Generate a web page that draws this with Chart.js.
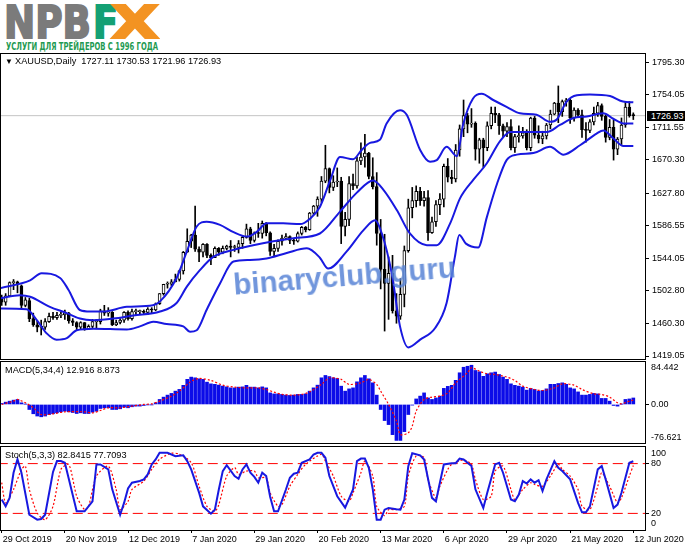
<!DOCTYPE html>
<html>
<head>
<meta charset="utf-8">
<script src="https://cdn.jsdelivr.net/npm/chart.js@4.4.1/dist/chart.umd.min.js"></script>
<style>
  html, body { margin:0; padding:0; background:#fff; }
  body { width:691px; height:549px; position:relative; overflow:hidden; font-family:"Liberation Sans", Arial, sans-serif; }
  canvas { position:absolute; left:0; }
  .lbl { position:absolute; font-size:9.2px; line-height:11px; color:#000; white-space:pre; }
  .logoL { position:absolute; top:0; font-family:"DejaVu Sans", sans-serif; font-weight:bold; font-size:45px; line-height:45px; transform-origin:0 0; white-space:nowrap; -webkit-text-stroke:2px currentColor; }
  #slogan { position:absolute; left:6px; top:40px; font-family:"Liberation Sans Narrow","DejaVu Sans Condensed",sans-serif; font-weight:bold; font-size:10.5px; line-height:12px; color:#1f9a52; white-space:nowrap; transform-origin:0 0; }
  #tag { position:absolute; left:647px; top:111px; width:38px; height:10px; background:#000; color:#fff; font-size:9px; line-height:10px; text-align:left; padding-left:0; text-indent:4px; box-sizing:border-box; }
  #wm { position:absolute; left:233px; top:259px; font-family:"Liberation Sans", Arial, sans-serif; font-weight:bold; font-size:29.5px; line-height:33px; color:rgba(88,132,214,0.85); white-space:nowrap; transform:rotate(-4.5deg); transform-origin:50% 50%; pointer-events:none; }
</style>
</head>
<body>
<div class="logoL" id="lgN" style="color:#7b7b7b">NPB</div>
<div class="logoL" id="lgF" style="color:#14a074">F</div>
<div class="logoL" id="lgX" style="color:#f39322">X</div>
<div id="slogan">УСЛУГИ ДЛЯ ТРЕЙДЕРОВ С 1996 ГОДА</div>

<canvas id="cMain" width="691" height="307" style="top:53px"></canvas>
<canvas id="cMacd" width="691" height="83" style="top:361px"></canvas>
<canvas id="cStoch" width="691" height="103" style="top:446px"></canvas>

<div class="lbl" style="left:5px;top:56px;font-size:8px">▼</div>
<div class="lbl" style="left:15px;top:56.3px">XAUUSD,Daily  1727.11 1730.53 1721.96 1726.93</div>
<div class="lbl" style="left:5px;top:364.6px">MACD(5,34,4) 12.916 8.873</div>
<div class="lbl" style="left:5px;top:450px">Stoch(5,3,3) 82.8415 77.7093</div>
<div id="tag">1726.93</div>
<div id="wm">binaryclub.guru</div>

<script>
// ---------------- DATA ----------------
const dateLabels = ['29 Oct 2019','20 Nov 2019','12 Dec 2019','7 Jan 2020','29 Jan 2020','20 Feb 2020','13 Mar 2020','6 Apr 2020','29 Apr 2020','21 May 2020','12 Jun 2020'];
const dateTickBars = [0,16,32,48,64,80,96,112,128,144,160];

const opens = [1493,1488,1496,1513,1514,1509,1484,1490,1467,1459,1456,1456,1463,1470,1468,1471,1472,1474,1464,1462,
1456,1462,1454,1457,1463,1463,1477,1474,1475,1459,1462,1465,1475,1467,1476,1476,1476,1475,1479,1478,
1486,1499,1511,1511,1514,1517,1528,1552,1566,1574,1556,1552,1562,1548,1545,1557,1552,1557,1560,1558,
1558,1563,1571,1582,1567,1577,1576,1589,1577,1553,1557,1566,1570,1572,1567,1566,1576,1584,1581,1602,
1611,1620,1643,1659,1635,1642,1643,1585,1594,1640,1637,1669,1674,1679,1649,1636,1576,1530,1512,1525,
1477,1470,1498,1554,1609,1618,1630,1618,1622,1577,1591,1613,1620,1662,1648,1646,1683,1710,1727,1716,
1717,1684,1696,1686,1714,1730,1728,1714,1707,1713,1686,1700,1701,1705,1686,1724,1702,1697,1701,1715,
1729,1743,1732,1745,1747,1724,1734,1728,1709,1708,1719,1730,1740,1726,1699,1712,1684,1697,1715,1738,1727.11];
const highs = [1497,1499,1514,1517,1515,1510,1494,1493,1474,1464,1465,1467,1474,1475,1475,1475,1478,1475,1467,1463,
1463,1462,1459,1466,1466,1479,1484,1481,1476,1465,1467,1476,1477,1479,1479,1478,1478,1481,1481,1487,
1499,1511,1514,1517,1524,1529,1553,1582,1575,1611,1559,1563,1563,1550,1559,1558,1560,1561,1567,1561,
1567,1573,1588,1584,1578,1589,1592,1590,1578,1562,1568,1574,1576,1573,1569,1578,1585,1585,1603,1612,
1623,1649,1689,1660,1650,1660,1648,1603,1649,1652,1674,1692,1703,1680,1673,1654,1594,1575,1546,1548,
1499,1518,1560,1620,1635,1637,1635,1630,1631,1597,1618,1627,1665,1672,1657,1690,1715,1747,1730,1736,
1719,1698,1698,1719,1738,1738,1730,1716,1718,1722,1703,1714,1712,1709,1725,1726,1714,1707,1717,1734,
1744,1765,1747,1749,1748,1737,1736,1734,1718,1722,1738,1744,1742,1728,1722,1721,1699,1724,1744,1745,1730.53];
const lows = [1484,1484,1495,1504,1500,1480,1482,1463,1457,1450,1446,1453,1462,1466,1466,1468,1466,1461,1458,1452,
1454,1452,1453,1454,1454,1460,1471,1470,1458,1458,1460,1462,1465,1465,1472,1473,1472,1472,1474,1477,
1485,1497,1506,1509,1514,1515,1524,1552,1558,1553,1540,1546,1545,1536,1545,1548,1550,1555,1546,1553,
1551,1557,1570,1563,1565,1571,1570,1573,1548,1547,1553,1561,1568,1563,1562,1565,1574,1578,1580,1600,
1598,1616,1641,1628,1631,1636,1563,1573,1586,1632,1634,1664,1661,1646,1633,1561,1505,1451,1466,1474,
1461,1466,1482,1552,1596,1610,1612,1611,1567,1576,1585,1600,1610,1642,1640,1642,1675,1700,1705,1712,
1670,1666,1661,1682,1710,1718,1703,1700,1700,1683,1680,1693,1698,1683,1682,1698,1692,1691,1697,1710,
1728,1718,1726,1739,1717,1720,1725,1699,1693,1705,1715,1726,1721,1693,1696,1670,1677,1690,1712,1725,1721.96];
const closes = [1488,1496,1513,1514,1510,1484,1491,1467,1459,1456,1456,1463,1470,1468,1471,1472,1474,1464,1462,1456,
1462,1454,1457,1463,1463,1477,1474,1475,1459,1462,1465,1475,1467,1476,1476,1476,1475,1479,1478,1486,
1499,1511,1511,1514,1517,1528,1552,1566,1574,1556,1552,1562,1548,1545,1557,1552,1557,1560,1558,1558,
1563,1571,1582,1567,1577,1576,1589,1577,1553,1557,1566,1570,1572,1567,1566,1576,1584,1581,1602,1611,
1620,1643,1659,1635,1642,1643,1585,1594,1640,1637,1669,1674,1679,1649,1636,1576,1530,1512,1525,1477,
1470,1498,1554,1609,1618,1630,1618,1622,1577,1591,1613,1620,1662,1648,1646,1683,1710,1727,1716,1717,
1684,1696,1686,1714,1730,1728,1714,1707,1713,1686,1700,1701,1705,1686,1724,1702,1697,1701,1715,1729,
1743,1732,1745,1747,1724,1734,1728,1709,1708,1719,1730,1740,1726,1699,1712,1684,1697,1715,1738,1727,1726.93];
const lastPrice = 1726.93;

// Bollinger bands: [bar, price]
const bbUpper = [[-0.4,1506],[7.2,1516],[10.1,1525],[14.8,1519],[16.9,1504],[19.8,1478],[22.4,1476],[25.7,1476],[31.7,1482],[38.3,1484],[40.1,1489],[44.3,1519],[46.9,1553],[49.4,1585],[51.9,1591],[55.3,1587],[58.6,1578],[62.1,1572],[64.6,1578],[67.1,1589],[71.3,1589],[75.6,1588],[78.1,1595],[80.6,1610],[83.2,1644],[85.7,1674],[89,1671],[91.2,1683],[93.3,1692],[95.8,1696],[97.5,1717],[100.9,1734],[102.6,1728],[106,1683],[108.5,1668],[110.2,1670],[112.7,1687],[115.3,1675],[116.9,1716],[119.4,1749],[121.6,1755],[124.5,1747],[128,1738],[131.3,1730],[135.5,1728],[138.9,1719],[140.6,1722],[143.1,1745],[145.7,1753],[149,1754],[154.1,1752],[157.4,1745],[160,1744]];
const bbMiddle = [[-0.4,1493],[4.6,1497],[7.2,1495],[12.2,1482],[16.5,1474],[19.8,1467],[23.2,1465],[28.3,1467],[33.3,1471],[40.1,1476],[44.3,1487],[46.9,1508],[50.2,1529],[53.6,1546],[58.7,1555],[63.7,1561],[68.8,1566],[73.9,1570],[80.6,1576],[85.7,1604],[89.9,1628],[94.1,1644],[96.7,1632],[100.1,1606],[103.4,1576],[107.7,1561],[110.2,1561],[113.6,1589],[116.1,1621],[119.5,1645],[122.9,1666],[126.2,1694],[128.8,1706],[133,1706],[138.1,1706],[141.4,1715],[144.8,1724],[148.2,1726],[152.4,1730],[154.9,1723],[157.5,1717],[160,1717]];
const bbLower = [[-0.4,1480],[6.3,1479],[8.9,1465],[11.4,1448],[13.9,1440],[16.5,1442],[19,1452],[23.2,1454],[31.7,1453],[35,1457],[38.4,1463],[41.8,1460],[46,1457],[47.7,1450],[49.4,1452],[51.9,1478],[55.3,1512],[58.7,1540],[62.9,1542],[67.1,1544],[72.2,1551],[77.3,1557],[80.6,1545],[82.7,1531],[87.4,1553],[91.6,1580],[94.6,1593],[96.3,1576],[98.8,1525],[100.9,1457],[103,1430],[106,1440],[109.8,1455],[112.7,1487],[114.8,1546],[115.9,1574],[117.6,1563],[120.7,1558],[122.9,1597],[125.5,1640],[127.9,1670],[130.5,1677],[134.7,1679],[138.9,1687],[142.3,1677],[146.5,1689],[150.7,1704],[152.4,1708],[154.9,1698],[157.5,1688],[160,1688]];

// MACD histogram, one value per bar
const macdHist = [2,4.6,6.6,8.6,10,3.3,0.5,-10,-18.5,-23,-24.5,-23,-20,-18.5,-16.6,-14.6,-13.3,-14.6,-16,-18,
-16.6,-18,-18,-15.3,-13.3,-8,-6.6,-6.6,-10,-10,-8.6,-5.3,-6.6,-4.6,-3.3,-3.3,-2,-0.5,-0.5,3.3,
10,14.6,18.6,22,26.5,30,38,50,54.4,53,51,50,44.4,41,40,38.5,36.5,35,33,33,
34.5,35,38,34.5,34.5,33,35,33,23,21,21,20,18.6,18,18.6,20,20,21,26.5,33,
38.4,53,57.7,55.5,53,51.7,36.4,26.5,31,33,45,53,57.7,51,43,18.6,-10,-32,-40,-60,
-71.5,-71.5,-54,-20,-1.3,11,16.6,23,13,10,13,16.6,32,36,38,48,63,74,76,78,
67.6,65,56,61,63,64.4,59.6,54.4,50,41,38,36.5,34.5,28.5,32,30,26.5,27.8,31,40,
40,41.7,43,40,33,31,25,18.6,18.6,20,22,21,12,12,6.6,-2,-3.3,0.5,10,11,12.9];
// MACD signal line: [bar, value]
const macdSignal = [[0,0],[3,6.6],[4,10],[6,3.3],[8,-6.6],[10,-20],[13,-18.6],[16,-14.6],[21,-14.6],[23,-16.6],[25,-12],[27,-6.6],[30,-6.6],[33,-3.3],[36,0],[38,1.3],[40,6.6],[43,16.6],[45,26.5],[48,46],[50,51.7],[53,47.7],[56,38.4],[59,34.4],[62,33],[65,33],[67,29.8],[69,24.5],[71,20],[74,18.6],[76,20],[78,25],[81,40],[83,53],[85,51.7],[86,50],[88,40],[91,43],[93,49.7],[95,39.8],[96,26.5],[98,0],[100,-33],[101,-59.6],[103,-56.3],[104,-43],[105,-13.3],[107,10],[109,14.6],[111,16.6],[113,23],[115,43],[118,63],[119,73],[121,66.3],[123,61],[125,59.6],[128,54.4],[130,47.7],[132,36.4],[135,29.8],[137,27.8],[140,33],[142,41],[145,38.4],[147,29.8],[150,21.2],[152,19.9],[154,14.6],[156,3.3],[157,1.3],[159,6.6],[160,8.87]];

// Stochastic %K and %D: [bar, value]
const stochK = [[0,36.7],[1,28.5],[2,38.7],[3,69],[4,85.2],[5,69],[7,18.4],[9,12.4],[10,13.2],[11,18.4],[13,70],[14,83],[15,83],[16,81],[19,22.5],[21,22.5],[23,34.6],[24,79],[25,79],[27,73],[28,49],[30,18.4],[31,32.6],[32,50],[33,57],[35,59],[36,61],[37,67],[38,79],[39,85],[40,93],[42,93],[44,89],[46,90],[47,83],[48,73],[50,45],[51,28.5],[53,19.7],[54,24.5],[55,48.8],[56,71],[57,78],[59,65],[60,61.8],[61,73],[62,79],[63,69],[64,64],[65,57],[66,69],[67,65],[68,40],[69,22.5],[70,22.5],[72,48.8],[73,63],[74,67.8],[75,69],[76,81],[78,85],[79,91],[80,93],[81,93],[82,87],[83,65],[85,40.7],[87,27],[89,48.8],[90,83],[91,86],[92,86],[93,75],[94,49],[95,12.4],[96,12.4],[97,24.5],[98,26.6],[100,25],[101,24.5],[102,36.7],[103,77],[104,92.5],[106,90],[107,85],[109,38.7],[110,34.6],[111,57],[112,79],[114,80.4],[115,80.4],[116,86],[117,85],[119,77],[120,49],[122,26.6],[123,44.8],[125,79],[126,81],[127,69],[129,36.7],[130,34.6],[131,42.7],[132,59],[133,56],[134,61],[135,57],[136,60],[137,47],[138,61],[140,83],[141,75],[142,71],[144,61],[146,32.6],[147,21.3],[148,21.3],[149,28.5],[151,73],[152,77],[153,61],[155,26.6],[156,30.6],[157,44.8],[159,81],[160,82.84]];
const stochD = [[0,57],[1,32.6],[3,48.8],[5,73],[6,77],[7,48.8],[9,20.5],[11,12.4],[13,28.5],[15,73],[17,79],[19,40.7],[21,24.5],[22,28.5],[24,65],[27,77],[29,48.8],[30,24.5],[32,34.6],[33,48.8],[36,58.9],[38,73],[40,85.2],[43,92.5],[45,91.3],[48,81.2],[50,52.8],[52,28.5],[54,22.5],[55,30.6],[57,65],[59,75.1],[60,67],[62,71],[64,71],[65,63],[67,63],[68,44.8],[70,28.5],[71,30.6],[73,52.8],[75,67],[77,79.1],[81,91.3],[82,83.1],[84,65],[86,40.7],[88,34.6],[89,44.8],[91,69],[92,83.1],[94,65],[95,28.5],[97,17.2],[98,24.5],[100,24.5],[102,28.5],[103,65],[105,89.2],[107,87.2],[108,60.9],[110,38.7],[111,52.8],[113,73],[114,79.1],[117,84.4],[119,79.1],[120,60.9],[122,36.7],[124,40.7],[125,71],[127,77],[129,48.8],[130,36.7],[132,48.8],[134,56.9],[135,54.8],[137,52.8],[139,65],[141,79.1],[142,73],[144,65],[146,48.8],[147,28.5],[149,24.5],[151,52.8],[152,69],[154,52.8],[156,32.6],[157,38.7],[159,65],[160,77.71]];
const stochLevels = [20, 80];

const priceTicks = [1795.30,1754.05,1711.55,1670.30,1627.80,1586.55,1544.05,1502.80,1460.30,1419.05];
const macdTickLabels = ['84.442','0.00','-76.621'];
const stochTickLabels = ['100','80','20','0'];

// ---------------- LOGO FITTING ----------------
function fitW(id, left, width) {
  const el = document.getElementById(id);
  el.style.left = left + 'px';
  const w = el.getBoundingClientRect().width;
  el.style.transform = 'scaleX(' + (width / w) + ')';
}
fitW('lgN', 4, 87); fitW('lgF', 93, 25); fitW('lgX', 111, 48); fitW('slogan', 6, 152);

// ---------------- CHARTS ----------------
Chart.defaults.animation = false;
Chart.defaults.font.family = 'Liberation Sans';
Chart.defaults.font.size = 9;
Chart.defaults.color = '#000';

const BLUE = '#1818e0';
const xMin = -0.177, xMax = 162.96;
const pts = arr => arr.map(p => ({x: p[0], y: p[1]}));

const framePlugin = {
  id: 'frame',
  afterDraw(chart) {
    const {ctx, chartArea: a} = chart;
    ctx.save();
    ctx.strokeStyle = '#000';
    ctx.lineWidth = 1;
    ctx.strokeRect(a.left - 0.5, a.top - 0.5, a.right - a.left + 1, a.bottom - a.top + 1);
    ctx.restore();
  }
};

function yAxis(min, max, vals, labels, marks, pad) {
  return {
    position: 'right', min, max,
    afterBuildTicks: s => { s.ticks = vals.map(v => ({value: v})); },
    afterFit: s => { s.width = 46; s.paddingTop = 0; s.paddingBottom = 0; },
    ticks: { color: '#000', padding: pad, autoSkip: false, callback: (v, i) => labels[i] },
    grid: { drawOnChartArea: false, drawTicks: true, tickLength: 4, color: 'rgba(0,0,0,0)',
            tickColor: c => (marks[c.index] ? '#000' : 'rgba(0,0,0,0)') },
    border: { display: false }
  };
}
const xHidden = { type: 'linear', min: xMin, max: xMax, offset: false, display: false };
const baseOpts = {
  responsive: false, devicePixelRatio: 1,
  plugins: { legend: { display: false }, tooltip: { enabled: false } },
  events: []
};

// Main price chart
const wickData = highs.map((h, i) => ({x: i, y: [lows[i], h]}));
const bodyData = opens.map((o, i) => ({x: i, y: [Math.min(o, closes[i]), Math.max(o, closes[i])]}));
const bodyColors = opens.map((o, i) => (closes[i] >= o ? '#ffffff' : '#000000'));

new Chart(document.getElementById('cMain'), {
  type: 'bar',
  data: { datasets: [
    { type: 'line', data: [{x: -1, y: lastPrice}, {x: 164, y: lastPrice}], borderColor: '#c4c4c4', borderWidth: 1, pointRadius: 0, order: 10 },
    { type: 'bar', data: wickData, backgroundColor: '#000', barThickness: 1, grouped: false, order: 9 },
    { type: 'bar', data: bodyData, backgroundColor: bodyColors, borderColor: '#000', borderWidth: 1, borderSkipped: false, barThickness: 3, grouped: false, minBarLength: 1, order: 8 },
    { type: 'line', data: pts(bbUpper), borderColor: BLUE, borderWidth: 2, pointRadius: 0, cubicInterpolationMode: 'monotone', order: 1 },
    { type: 'line', data: pts(bbMiddle), borderColor: BLUE, borderWidth: 2, pointRadius: 0, cubicInterpolationMode: 'monotone', order: 1 },
    { type: 'line', data: pts(bbLower), borderColor: BLUE, borderWidth: 2, pointRadius: 0, cubicInterpolationMode: 'monotone', order: 1 }
  ]},
  options: Object.assign({}, baseOpts, {
    layout: { padding: { left: 1, top: 1, right: 0, bottom: 1 } },
    scales: {
      x: xHidden,
      y: yAxis(1415.21, 1805.93, priceTicks, priceTicks.map(v => v.toFixed(2)), priceTicks.map(() => true), 3)
    }
  }),
  plugins: [framePlugin]
});

// MACD
new Chart(document.getElementById('cMacd'), {
  type: 'bar',
  data: { datasets: [
    { type: 'bar', data: macdHist.map((v, i) => ({x: i, y: v})), backgroundColor: '#0c0ce8', barThickness: 3, grouped: false, order: 5 },
    { type: 'line', data: pts(macdSignal), borderColor: '#ff0000', borderWidth: 1.2, borderDash: [2, 2], pointRadius: 0, tension: 0.3, order: 1 }
  ]},
  options: Object.assign({}, baseOpts, {
    layout: { padding: { left: 1, top: 1, right: 0, bottom: 1 } },
    scales: {
      x: xHidden,
      y: yAxis(-76.621, 84.442, [72.51, 0, -66.08], macdTickLabels, [false, true, false], 2)
    }
  }),
  plugins: [framePlugin]
});

// Stochastic
new Chart(document.getElementById('cStoch'), {
  type: 'line',
  data: { datasets: [
    { data: [{x: -1, y: stochLevels[0]}, {x: 164, y: stochLevels[0]}], borderColor: '#ff0000', borderWidth: 1, borderDash: [10, 5], pointRadius: 0, order: 5 },
    { data: [{x: -1, y: stochLevels[1]}, {x: 164, y: stochLevels[1]}], borderColor: '#ff0000', borderWidth: 1, borderDash: [10, 5], pointRadius: 0, order: 5 },
    { data: pts(stochD), borderColor: '#ff0000', borderWidth: 1.2, borderDash: [2, 2], pointRadius: 0, tension: 0.25, order: 2 },
    { data: pts(stochK), borderColor: BLUE, borderWidth: 2, pointRadius: 0, tension: 0, order: 1 }
  ]},
  options: Object.assign({}, baseOpts, {
    layout: { padding: { left: 1, top: 1, right: 0, bottom: 0 } },
    scales: {
      x: {
        type: 'linear', min: xMin, max: xMax, offset: false, position: 'bottom',
        afterBuildTicks: s => { s.ticks = dateTickBars.map(v => ({value: v})); },
        afterFit: s => { s.height = 19; s.paddingLeft = 0; s.paddingRight = 0; },
        ticks: { autoSkip: false, maxRotation: 0, minRotation: 0, align: 'start', labelOffset: 1, padding: 1, color: '#000', callback: (v, i) => dateLabels[i] },
        grid: { drawOnChartArea: false, tickLength: 3, tickColor: '#000', color: 'rgba(0,0,0,0)' },
        border: { display: false }
      },
      y: yAxis(0, 100, [91.93, 80, 20, 7.59], stochTickLabels, [false, true, true, false], 2)
    }
  }),
  plugins: [framePlugin]
});
</script>
</body>
</html>
